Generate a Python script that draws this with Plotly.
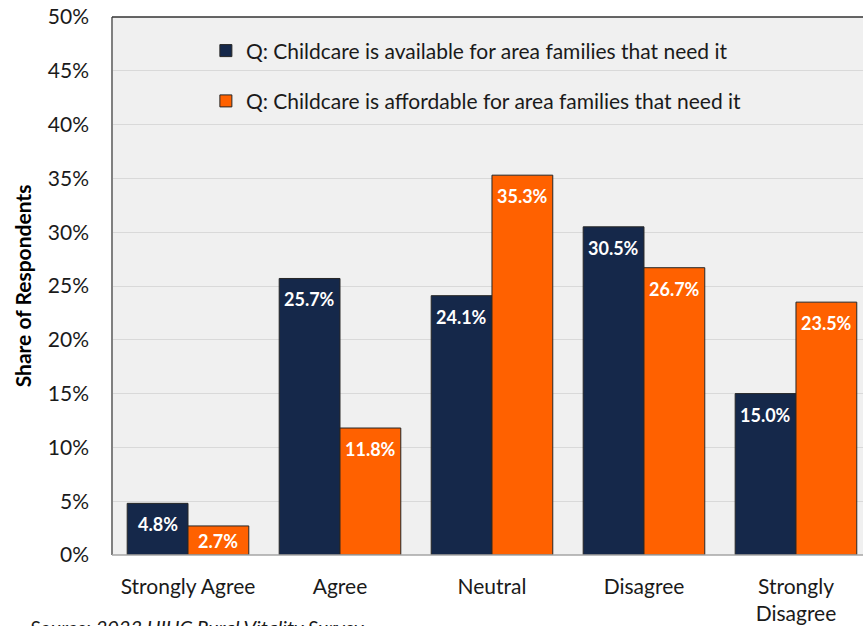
import plotly.graph_objects as go

categories = ["Strongly Agree", "Agree", "Neutral", "Disagree", "Strongly<br>Disagree"]
available = [4.8, 25.7, 24.1, 30.5, 15.0]
affordable = [2.7, 11.8, 35.3, 26.7, 23.5]
series_names = ["Q: Childcare is available for area families that need it",
                "Q: Childcare is affordable for area families that need it"]
y_ticks = [0, 5, 10, 15, 20, 25, 30, 35, 40, 45, 50]

FONT = "Lato"
NAVY = "#15284A"
ORANGE = "#FF6100"
TXT = "#1a1a1a"

x_idx = list(range(len(categories)))
BAR_OFF = 0.2  # bar centre offset inside a group (bargap 0.2, 2 bars)

fig = go.Figure()
annotations = []
for k, (name, vals, col, grp) in enumerate([(series_names[0], available, NAVY, "a"),
                                             (series_names[1], affordable, ORANGE, "b")]):
    fig.add_trace(go.Bar(
        x=x_idx, y=vals, name=name, legendgroup=grp,
        marker=dict(color=col, line=dict(color="#262626", width=1)),
        cliponaxis=False,
    ))
    off = -BAR_OFF if k == 0 else BAR_OFF
    for i, v in zip(x_idx, vals):
        annotations.append(dict(
            x=i + off, y=v, xref="x", yref="y", text=f"<b>{v:.1f}%</b>",
            showarrow=False, yanchor="top", yshift=-8 if v > 4 else -2,
            font=dict(family=FONT, size=18, color="white")))

annotations.append(dict(
    text="<i>Source: 2023 UIUC Rural Vitality Survey</i>", xref="paper", yref="paper",
    x=-0.1125, y=-0.108, xanchor="left", yanchor="top", showarrow=False,
    font=dict(family=FONT, size=20, color=TXT)))

fig.update_layout(
    width=863, height=626,
    margin=dict(l=112, r=0, t=17, b=71),
    paper_bgcolor="white", plot_bgcolor="#F0F0F0",
    barmode="group", bargap=0.2, bargroupgap=0,
    font=dict(family=FONT, size=21, color=TXT),
    showlegend=True,
    legend=dict(x=0.125, y=0.975, xanchor="left", yanchor="top",
                bgcolor="rgba(0,0,0,0)", font=dict(family=FONT, size=21, color=TXT),
                tracegroupgap=20, traceorder="grouped"),
    xaxis=dict(range=[-0.5, 4.441], tickmode="array", tickvals=x_idx, ticktext=categories,
               showgrid=False, zeroline=False, showline=False, ticks="", automargin=False,
               ticklabelstandoff=17, tickfont=dict(size=21)),
    yaxis=dict(range=[0, 50], tickmode="array", tickvals=y_ticks,
               ticktext=[f"{t}%" for t in y_ticks], automargin=False,
               showgrid=True, gridcolor="#D9D9D9", gridwidth=1,
               zeroline=False, showline=False, ticks="", ticklabelstandoff=22,
               ticklabeloverflow="allow",
               tickfont=dict(size=21),
               title=dict(text="<b>Share of Respondents</b>", font=dict(size=21, color="#000000"),
                          standoff=10)),
    shapes=[
        # legend box area (hides the gridline behind the legend)
        dict(type="rect", xref="paper", yref="y", x0=0, x1=0.988, y0=43, y1=47,
             fillcolor="#F0F0F0", line=dict(width=0), layer="between"),
        dict(type="line", xref="paper", yref="paper", x0=0, x1=0, y0=0, y1=1,
             line=dict(color="#808080", width=2), layer="above"),
        dict(type="line", xref="paper", yref="paper", x0=0, x1=1, y0=1, y1=1,
             line=dict(color="#333333", width=1.5), layer="above"),
        dict(type="line", xref="paper", yref="paper", x0=0, x1=1, y0=0, y1=0,
             line=dict(color="#A6A6A6", width=1.5), layer="above"),
    ],
    annotations=annotations,
)

fig.write_html("out.html", config={"displayModeBar": False},
               post_script="document.body.style.margin='0';document.body.style.overflow='hidden';")
